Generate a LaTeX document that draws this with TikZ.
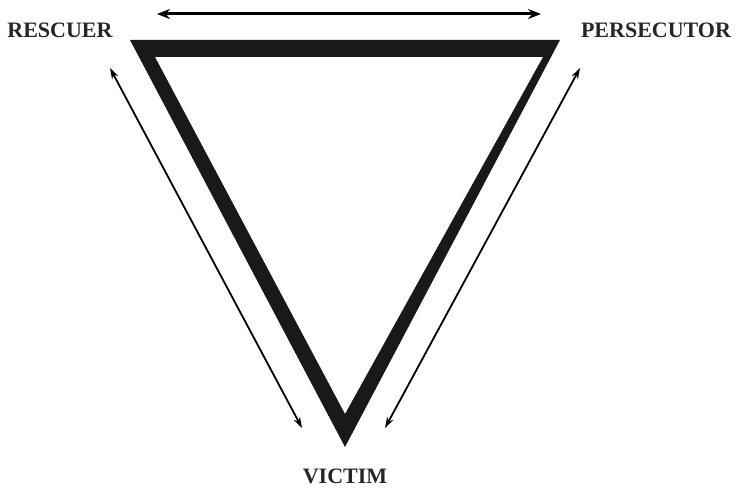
\documentclass[tikz,border=0pt]{standalone}
\usepackage{fontspec}
\setmainfont{Liberation Serif}
\usetikzlibrary{arrows.meta}
\begin{document}
\begin{tikzpicture}[x=1pt,y=-1pt,
  lbl/.style={font=\fontsize{22}{24}\selectfont\bfseries, text=black!85, inner sep=0pt, anchor=center},
  bigarrow/.style={line width=3pt, {Stealth[length=13pt,width=10pt]}-{Stealth[length=13pt,width=10pt]}},
  sidearrow/.style={line width=1.8pt, {Stealth[length=11pt,width=7pt]}-{Stealth[length=11pt,width=7pt]}}]
\useasboundingbox (0,0) rectangle (738,487);
% triangle corners
\coordinate (o1) at (130,40);
\coordinate (o2) at (560,40);
\coordinate (o3) at (345,447);
\coordinate (i1) at (155,57);
\coordinate (i2) at (543,57);
\coordinate (i3) at (345,414);
\fill[black!90, even odd rule] (o1) -- (o2) -- (o3) -- cycle (i1) -- (i2) -- (i3) -- cycle;
% labels
\node[lbl] (rescuer) at (60,30) {RESCUER};
\node[lbl] (persecutor) at (656,30) {PERSECUTOR};
\node[lbl] (victim) at (345,476) {VICTIM};
% arrow endpoints
\coordinate (ta) at (157,14);
\coordinate (tb) at (541,14);
\coordinate (la) at (110,68);
\coordinate (lb) at (302,428);
\coordinate (ra) at (580,68);
\coordinate (rb) at (385,428);
\draw[bigarrow] (ta) -- (tb);
\draw[sidearrow] (la) -- (lb);
\draw[sidearrow] (ra) -- (rb);
\end{tikzpicture}
\end{document}
